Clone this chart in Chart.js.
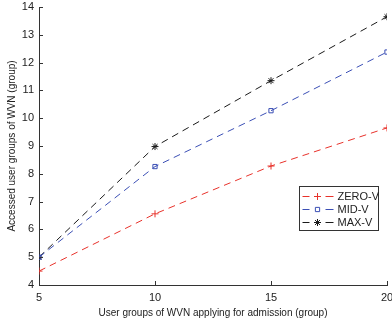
<!DOCTYPE html>
<html>
<head>
<meta charset="utf-8">
<script src="https://cdn.jsdelivr.net/npm/chart.js@4/dist/chart.umd.min.js"></script>
<style>
html,body{margin:0;padding:0;background:#fff;}
#wrap{width:392px;height:322px;position:relative;}
</style>
</head>
<body>
<div id="wrap"><canvas id="c" width="392" height="322"></canvas></div>
<script>
const xValues = [5, 10, 15, 20];
const zeroV = [4.5, 6.56, 8.28, 9.65];
const midV = [5.0, 8.26, 10.27, 12.38];
const maxV = [5.0, 8.98, 11.35, 13.65];
const seriesNames = ['ZERO-V', 'MID-V', 'MAX-V'];
const xTicks = [5, 10, 15, 20];
const yTicks = [4, 5, 6, 7, 8, 9, 10, 11, 12, 13, 14];
const xTitle = 'User groups of WVN applying for admission (group)';
const yTitle = 'Accessed user groups of WVN (group)';

const FONT = '"Liberation Sans", Arial, sans-serif';
const AXIS = '#333333';

function pts(ys){ return xValues.map((x,i)=>({x:x,y:ys[i]})); }

const colors = ['#e8322b', '#3b4fb5', '#1a1a1a'];
const styles = ['cross', 'rect', 'star'];

const datasets = [zeroV, midV, maxV].map((d,i)=>({
  label: seriesNames[i],
  data: pts(d),
  borderColor: colors[i],
  backgroundColor: 'rgba(0,0,0,0)',
  borderWidth: 1,
  borderDash: [7,5],
  pointStyle: styles[i],
  pointRadius: i===1 ? 3 : 3.5,
  pointBorderColor: colors[i],
  pointBackgroundColor: 'rgba(0,0,0,0)',
  pointBorderWidth: 1,
  tension: 0
}));

const tickPlugin = {
  id: 'inTicks',
  afterDraw(chart){
    const ctx = chart.ctx, a = chart.chartArea;
    const xs = chart.scales.x, ys = chart.scales.y;
    ctx.save();
    ctx.strokeStyle = AXIS; ctx.lineWidth = 1;
    ctx.beginPath();
    xTicks.forEach(v=>{ const p = Math.round(xs.getPixelForValue(v))+0.5; ctx.moveTo(p, a.bottom); ctx.lineTo(p, a.bottom-4); });
    yTicks.forEach(v=>{ const p = Math.round(ys.getPixelForValue(v))+0.5; ctx.moveTo(a.left, p); ctx.lineTo(a.left+4, p); });
    ctx.stroke();
    // legend
    const lx = 299.5, ly = 186.5, lw = 79, lh = 44;
    ctx.fillStyle = '#fff';
    ctx.fillRect(lx, ly, lw, lh);
    ctx.strokeStyle = '#333'; ctx.lineWidth = 1;
    ctx.strokeRect(lx, ly, lw, lh);
    ctx.font = '11px ' + FONT;
    ctx.textBaseline = 'middle';
    chart.data.datasets.forEach((ds,i)=>{
      const y = Math.round(ly + 9 + i*13) + 0.5;
      ctx.strokeStyle = ds.borderColor; ctx.lineWidth = 1;
      ctx.beginPath();
      ctx.moveTo(lx+3, y); ctx.lineTo(lx+10, y);
      ctx.moveTo(lx+26, y); ctx.lineTo(lx+34, y);
      ctx.stroke();
      ctx.fillStyle = 'rgba(0,0,0,0)';
      Chart.helpers.drawPoint(ctx, {pointStyle: ds.pointStyle, radius: ds.pointRadius, borderWidth:1}, lx+18, y);
      ctx.fillStyle = '#222';
      ctx.fillText(ds.label, lx+38, y+0.5);
    });
    ctx.restore();
  }
};

new Chart(document.getElementById('c'), {
  type: 'line',
  data: { datasets },
  options: {
    responsive: false,
    animation: false,
    layout: { padding: { top: 7, right: 0, bottom: 0, left: 0 } },
    plugins: { legend: { display: false }, tooltip: { enabled: false } },
    scales: {
      x: {
        type: 'linear', min: 5, max: 20,
        afterBuildTicks: s => { s.ticks = xTicks.map(v=>({value:v})); },
        afterFit: s => { s.height = 37; s.paddingRight = 0; s.paddingLeft = 0; },
        grid: { display: true, drawOnChartArea: false, drawTicks: false, tickLength: 0 },
        border: { display: true, color: AXIS, width: 1 },
        ticks: { color: '#222', font: { family: FONT, size: 11 }, padding: 6, maxRotation: 0, autoSkip: false },
        title: { display: true, text: xTitle, color: '#222', font: { family: FONT, size: 10 }, padding: { top: 0, bottom: 3 } }
      },
      y: {
        type: 'linear', min: 4, max: 14,
        afterBuildTicks: s => { s.ticks = yTicks.map(v=>({value:v})); },
        afterFit: s => { s.width = 39; s.paddingTop = 0; s.paddingBottom = 0; },
        grid: { display: true, drawOnChartArea: false, drawTicks: false, tickLength: 0 },
        border: { display: true, color: AXIS, width: 1 },
        ticks: { color: '#222', font: { family: FONT, size: 11 }, padding: 5, autoSkip: false },
        title: { display: true, text: yTitle, color: '#222', font: { family: FONT, size: 10 }, padding: { top: 6, bottom: 0 } }
      }
    }
  },
  plugins: [tickPlugin]
});
</script>
</body>
</html>
